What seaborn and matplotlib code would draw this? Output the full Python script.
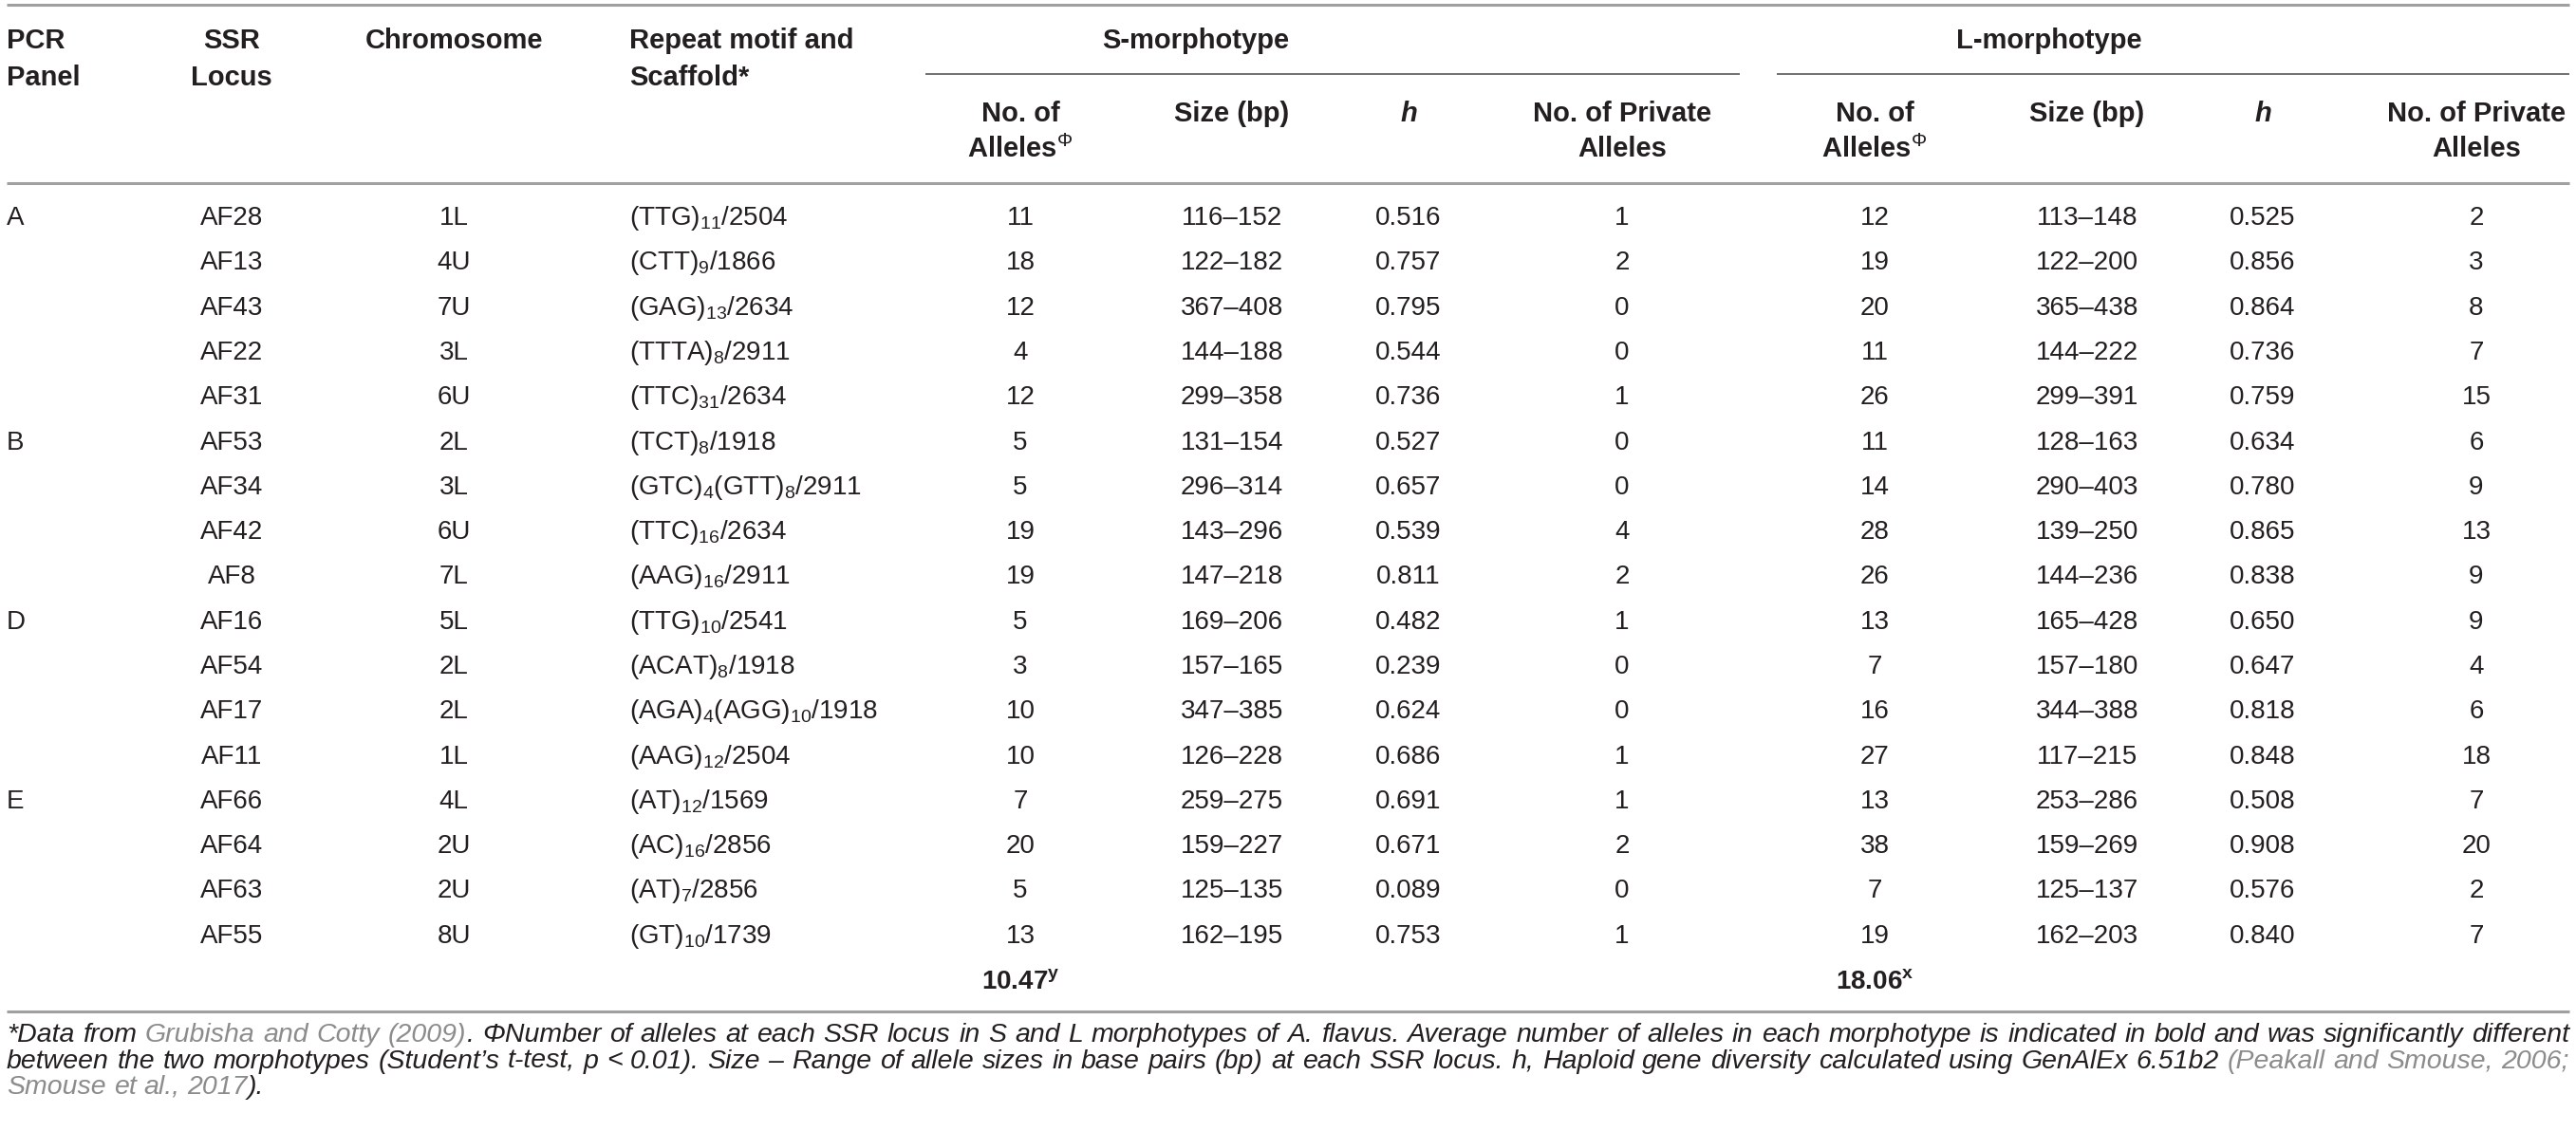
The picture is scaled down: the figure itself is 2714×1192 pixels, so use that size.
import numpy as np
import matplotlib
matplotlib.use("Agg")
import matplotlib.pyplot as plt
import seaborn as sns

# Table data
panels = ["A", "", "", "", "", "B", "", "", "", "D", "", "", "", "E", "", "", ""]
loci = ["AF28", "AF13", "AF43", "AF22", "AF31", "AF53", "AF34", "AF42", "AF8",
        "AF16", "AF54", "AF17", "AF11", "AF66", "AF64", "AF63", "AF55"]
chromosomes = ["1L", "4U", "7U", "3L", "6U", "2L", "3L", "6U", "7L",
               "5L", "2L", "2L", "1L", "4L", "2U", "2U", "8U"]
motifs = [r"(TTG)$_{11}$/2504", r"(CTT)$_{9}$/1866", r"(GAG)$_{13}$/2634",
          r"(TTTA)$_{8}$/2911", r"(TTC)$_{31}$/2634", r"(TCT)$_{8}$/1918",
          r"(GTC)$_{4}$(GTT)$_{8}$/2911", r"(TTC)$_{16}$/2634", r"(AAG)$_{16}$/2911",
          r"(TTG)$_{10}$/2541", r"(ACAT)$_{8}$/1918", r"(AGA)$_{4}$(AGG)$_{10}$/1918",
          r"(AAG)$_{12}$/2504", r"(AT)$_{12}$/1569", r"(AC)$_{16}$/2856",
          r"(AT)$_{7}$/2856", r"(GT)$_{10}$/1739"]
s_alleles = [11, 18, 12, 4, 12, 5, 5, 19, 19, 5, 3, 10, 10, 7, 20, 5, 13]
s_size = ["116–152", "122–182", "367–408", "144–188", "299–358", "131–154",
          "296–314", "143–296", "147–218", "169–206", "157–165", "347–385",
          "126–228", "259–275", "159–227", "125–135", "162–195"]
s_h = [0.516, 0.757, 0.795, 0.544, 0.736, 0.527, 0.657, 0.539, 0.811,
       0.482, 0.239, 0.624, 0.686, 0.691, 0.671, 0.089, 0.753]
s_private = [1, 2, 0, 0, 1, 0, 0, 4, 2, 1, 0, 0, 1, 1, 2, 0, 1]
l_alleles = [12, 19, 20, 11, 26, 11, 14, 28, 26, 13, 7, 16, 27, 13, 38, 7, 19]
l_size = ["113–148", "122–200", "365–438", "144–222", "299–391", "128–163",
          "290–403", "139–250", "144–236", "165–428", "157–180", "344–388",
          "117–215", "253–286", "159–269", "125–137", "162–203"]
l_h = [0.525, 0.856, 0.864, 0.736, 0.759, 0.634, 0.780, 0.865, 0.838,
       0.650, 0.647, 0.818, 0.848, 0.508, 0.908, 0.576, 0.840]
l_private = [2, 3, 8, 7, 15, 6, 9, 13, 9, 9, 4, 6, 18, 7, 20, 2, 7]
mean_marks = ["y", "x"]

INK = "#231f20"
LINK = "#8c8c8c"
RULE = "#a0a0a0"

sns.set_theme(style="white")
plt.rcParams["font.family"] = ["Liberation Sans", "DejaVu Sans"]
plt.rcParams["mathtext.fontset"] = "custom"
plt.rcParams["mathtext.rm"] = "Liberation Sans"
plt.rcParams["mathtext.it"] = "Liberation Sans:italic"
plt.rcParams["mathtext.bf"] = "Liberation Sans:bold"
plt.rcParams["mathtext.default"] = "rm"

W, H = 2714, 1192
fig = plt.figure(figsize=(W / 100, H / 100), dpi=100)
ax = fig.add_axes([0, 0, 1, 1])
ax.set_xlim(0, W)
ax.set_ylim(H, 0)
ax.axis("off")

BODY = 20
HEAD = 21

# rules
ax.hlines([5, 193, 1066], 7, 2707, color=RULE, lw=2.2)
ax.hlines([78, 78], [975, 1872], [1833, 2707], color="#707070", lw=1.4)

# header
hdr = dict(fontsize=HEAD, fontweight="bold", color=INK, va="center")
ax.text(7, 43, "PCR", ha="left", **hdr)
ax.text(7, 82, "Panel", ha="left", **hdr)
ax.text(244, 43, "SSR", ha="center", **hdr)
ax.text(244, 82, "Locus", ha="center", **hdr)
ax.text(478, 43, "Chromosome", ha="center", **hdr)
ax.text(663, 43, "Repeat motif and", ha="left", **hdr)
ax.text(663, 82, "Scaffold*", ha="left", **hdr)
ax.text(1260, 43, "S-morphotype", ha="center", **hdr)
ax.text(2159, 43, "L-morphotype", ha="center", **hdr)

col_x = {"s_all": 1075, "s_size": 1298, "s_h": 1484, "s_priv": 1709,
         "l_all": 1975, "l_size": 2199, "l_h": 2384, "l_priv": 2609}
for p in ("s", "l"):
    ax.text(col_x[p + "_all"], 120, "No. of", ha="center", **hdr)
    ax.text(col_x[p + "_all"], 157, r"Alleles$^{Φ}$", ha="center", **hdr)
    ax.text(col_x[p + "_size"], 120, "Size (bp)", ha="center", **hdr)
    ax.text(col_x[p + "_h"], 120, "h", ha="center", style="italic", **hdr)
    ax.text(col_x[p + "_priv"], 120, "No. of Private", ha="center", **hdr)
    ax.text(col_x[p + "_priv"], 157, "Alleles", ha="center", **hdr)

# body rows
y0, pitch = 230, 47.3
body = dict(fontsize=BODY, color=INK, va="center")
for i in range(len(loci)):
    y = y0 + i * pitch
    ax.text(7, y, panels[i], ha="left", **body)
    ax.text(244, y, loci[i], ha="center", **body)
    ax.text(478, y, chromosomes[i], ha="center", **body)
    ax.text(663, y, motifs[i], ha="left", **body)
    ax.text(col_x["s_all"], y, str(s_alleles[i]), ha="center", **body)
    ax.text(col_x["s_size"], y, s_size[i], ha="center", **body)
    ax.text(col_x["s_h"], y, f"{s_h[i]:.3f}", ha="center", **body)
    ax.text(col_x["s_priv"], y, str(s_private[i]), ha="center", **body)
    ax.text(col_x["l_all"], y, str(l_alleles[i]), ha="center", **body)
    ax.text(col_x["l_size"], y, l_size[i], ha="center", **body)
    ax.text(col_x["l_h"], y, f"{l_h[i]:.3f}", ha="center", **body)
    ax.text(col_x["l_priv"], y, str(l_private[i]), ha="center", **body)

# mean number of alleles
ym = y0 + len(loci) * pitch + 1
for key, vals, mk in (("s_all", s_alleles, mean_marks[0]), ("l_all", l_alleles, mean_marks[1])):
    ax.text(col_x[key], ym, f"{np.mean(vals):.2f}" + r"$^{\mathbf{" + mk + "}}$",
            ha="center", fontweight="bold", **body)

# footnote, justified
FOOT = 20.5
foot_lines = [
    [("*Data from", INK), ("Grubisha and Cotty (2009)", LINK),
     (". ΦNumber of alleles at each SSR locus in S and L morphotypes of A. flavus. "
      "Average number of alleles in each morphotype is indicated in bold and was "
      "significantly different", INK)],
    [("between the two morphotypes (Student’s t-test, p < 0.01). Size – Range of allele "
      "sizes in base pairs (bp) at each SSR locus. h, Haploid gene diversity calculated "
      "using GenAlEx 6.51b2", INK), ("(Peakall and Smouse, 2006;", LINK)],
    [("Smouse et al., 2017", LINK), (").", INK)],
]
foot_y = [1091, 1118.5, 1146]
x_left, x_right = 7, 2707

renderer = fig.canvas.get_renderer()


def split_words(segs):
    words = []
    for si, (txt, col) in enumerate(segs):
        for pi, w in enumerate(txt.split(" ")):
            if w == "":
                continue
            glue = pi == 0 and si > 0 and w[0] in ".,;)"
            words.append((w, col, glue))
    return words


def place_line(words, y, size, justify):
    arts = []
    for w, col, glue in words:
        t = ax.text(0, y, w, fontsize=size, style="italic", color=col,
                    ha="left", va="center")
        arts.append((t, t.get_window_extent(renderer).width, glue))
    return arts


space = FOOT * 100 / 72 * 0.278
# shrink the footnote size if a full line would not fit with normal spaces
probe = []
for segs in foot_lines[:-1]:
    arts = place_line(split_words(segs), -100, FOOT, False)
    n_gaps = sum(1 for a in arts[1:] if not a[2])
    probe.append(sum(a[1] for a in arts) + n_gaps * space)
    for a in arts:
        a[0].remove()
scale = min(1.0, (x_right - x_left) / max(probe))
FOOT = FOOT * scale
space = space * scale

for li, segs in enumerate(foot_lines):
    arts = place_line(split_words(segs), foot_y[li], FOOT, True)
    n_gaps = sum(1 for a in arts[1:] if not a[2])
    total = sum(a[1] for a in arts)
    if li < len(foot_lines) - 1:
        gap = (x_right - x_left - total) / max(n_gaps, 1)
    else:
        gap = space
    x = x_left
    for k, (t, wd, glue) in enumerate(arts):
        if k > 0 and not glue:
            x += gap
        t.set_x(x)
        x += wd

fig.savefig("out.png", dpi=100)
plt.close(fig)
